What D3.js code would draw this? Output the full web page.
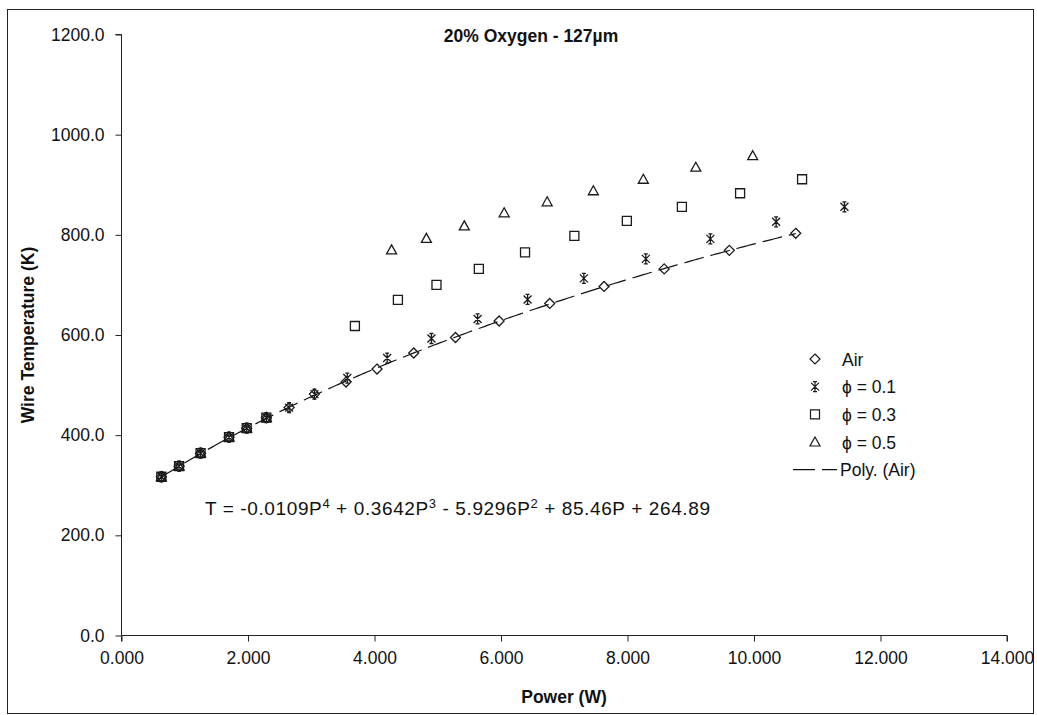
<!DOCTYPE html>
<html>
<head>
<meta charset="utf-8">
<script src="https://cdn.jsdelivr.net/npm/d3@7/dist/d3.min.js"></script>
<style>
  html, body { margin: 0; padding: 0; background: #fff; }
  svg { display: block; }
  text { font-family: Arial, "Liberation Sans", sans-serif; fill: #111; }
</style>
</head>
<body>
<svg id="chart" width="1037" height="715"></svg>
<script>
// Wire temperature vs. heating power, 20% O2, 127 µm wire
const airPower   = [0.63, 0.91, 1.25, 1.70, 1.98, 2.29, 2.65, 3.05, 3.55, 4.04, 4.62, 5.28, 5.97, 6.77, 7.63, 8.58, 9.61, 10.66];
const airTemp    = [317, 338, 364, 396, 414, 435, 455, 482, 506, 532, 564, 595, 628, 663, 697, 732, 769, 803];

const phi01Power = [0.63, 0.91, 1.25, 1.70, 1.98, 2.29, 2.65, 3.05, 3.57, 4.20, 4.90, 5.63, 6.42, 7.31, 8.29, 9.31, 10.35, 11.43];
const phi01Temp  = [317, 338, 364, 396, 414, 435, 455, 482, 514, 554, 593, 632, 671, 713, 752, 792, 826, 856];

const phi03Power = [0.63, 0.91, 1.25, 1.70, 1.98, 2.29, 3.69, 4.37, 4.98, 5.65, 6.38, 7.16, 7.99, 8.86, 9.78, 10.76];
const phi03Temp  = [317, 338, 364, 396, 414, 435, 618, 670, 700, 732, 765, 798, 828, 856, 883, 911];

const phi05Power = [0.63, 0.91, 1.25, 1.70, 1.98, 2.29, 4.27, 4.82, 5.42, 6.05, 6.73, 7.46, 8.25, 9.08, 9.98];
const phi05Temp  = [317, 338, 364, 396, 414, 435, 770, 793, 818, 844, 866, 888, 911, 935, 958];

// 4th-order polynomial fit of the Air series, ascending powers of P
const polyCoef = [264.89, 85.46, -5.9296, 0.3642, -0.0109];

const xTicks = [0, 2, 4, 6, 8, 10, 12, 14];
const yTicks = [0, 200, 400, 600, 800, 1000, 1200];

const seriesNames = ["Air", "\u03D5 = 0.1", "\u03D5 = 0.3", "\u03D5 = 0.5"];
const titleText = "20% Oxygen - 127\u00B5m";
const xTitle = "Power (W)";
const yTitle = "Wire Temperature (K)";

const svg = d3.select("#chart");
const FONT = "Arial, 'Liberation Sans', sans-serif";

// outer chart frame
svg.append("rect")
  .attr("x", 7.5).attr("y", 9.5)
  .attr("width", 1026).attr("height", 704)
  .attr("fill", "none").attr("stroke", "#222").attr("stroke-width", 1);

const x = d3.scaleLinear().domain([0, 14]).range([121.5, 1007]);
const y = d3.scaleLinear().domain([0, 1200]).range([635.5, 34.5]);

// axes
const yAxis = d3.axisLeft(y).tickValues(yTicks).tickSize(6).tickPadding(11)
  .tickFormat(d3.format(".1f"));
const gy = svg.append("g").attr("transform", `translate(${x(0)},0)`).call(yAxis);
gy.select(".domain").attr("stroke", "#222").attr("d", `M-6,${y(1200)}H0V${y(0)}`);
gy.selectAll(".tick line").attr("stroke", "#222");
gy.selectAll(".tick text").attr("font-size", 17.5).attr("fill", "#1a1a1a").attr("font-family", FONT);

const xAxis = d3.axisBottom(x).tickValues(xTicks).tickSize(6).tickPadding(10)
  .tickFormat(d3.format(".3f"));
const gx = svg.append("g").attr("transform", `translate(0,${y(0)})`).call(xAxis);
gx.select(".domain").attr("stroke", "#222").attr("d", `M${x(0)},6V0H${x(14)}V6`);
gx.selectAll(".tick line").attr("stroke", "#222");
gx.selectAll(".tick text").attr("font-size", 17.5).attr("fill", "#1a1a1a").attr("font-family", FONT);

// titles
svg.append("text").attr("x", 531).attr("y", 42).attr("text-anchor", "middle")
  .attr("font-size", 17.5).attr("font-weight", "bold").text(titleText);
svg.append("text").attr("x", 564).attr("y", 703).attr("text-anchor", "middle")
  .attr("font-size", 17.5).attr("font-weight", "bold").text(xTitle);
svg.append("text").attr("transform", `translate(34,${(y(0) + y(1200)) / 2}) rotate(-90)`)
  .attr("text-anchor", "middle").attr("font-size", 17.5).attr("font-weight", "bold").text(yTitle);

// polynomial trendline
const poly = p => polyCoef.reduce((s, c, i) => s + c * Math.pow(p, i), 0);
const pMin = d3.min(airPower), pMax = d3.max(airPower);
const fitPts = d3.range(0, 201).map(i => pMin + (pMax - pMin) * i / 200);
svg.append("path")
  .datum(fitPts)
  .attr("d", d3.line().x(p => x(p)).y(p => y(poly(p))))
  .attr("fill", "none").attr("stroke", "#111").attr("stroke-width", 1.2)
  .attr("stroke-dasharray", "20,7");

// marker shapes
const markerPath = {
  diamond: "M0,-5L5,0L0,5L-5,0Z",
  star: "M-4,-4L4,4M-4,4L4,-4M0,-5V5M-2,-5H2M-2,5H2",
  square: "M-4.5,-4.5H4.5V4.5H-4.5Z",
  triangle: "M0,-5L5,4H-5Z"
};
const markerOf = ["diamond", "star", "square", "triangle"];
const seriesData = [
  airPower.map((p, i) => [p, airTemp[i]]),
  phi01Power.map((p, i) => [p, phi01Temp[i]]),
  phi03Power.map((p, i) => [p, phi03Temp[i]]),
  phi05Power.map((p, i) => [p, phi05Temp[i]])
];

seriesData.forEach((pts, si) => {
  svg.append("g").selectAll("path").data(pts).join("path")
    .attr("transform", d => `translate(${x(d[0])},${y(d[1])})`)
    .attr("d", markerPath[markerOf[si]])
    .attr("fill", "none")
    .attr("stroke", "#1a1a1a").attr("stroke-width", 1.3);
});

// regression equation
const eq = svg.append("text").attr("x", 205).attr("y", 515).attr("font-size", 19)
  .attr("textLength", 505).attr("lengthAdjust", "spacing");
const eqParts = [
  ["T = -0.0109P", false], ["4", true], [" + 0.3642P", false], ["3", true],
  [" - 5.9296P", false], ["2", true], [" + 85.46P + 264.89", false]
];
let raised = false;
eqParts.forEach(([t, sup]) => {
  const dy = sup ? -7 : (raised ? 7 : 0);
  raised = sup;
  eq.append("tspan").attr("font-size", sup ? 13 : 19).attr("dy", dy).text(t);
});

// legend
const legY = [359, 386.7, 414.3, 442, 469.7];
const legMarkX = 815, legTextX = 842;
seriesNames.forEach((name, i) => {
  svg.append("path")
    .attr("transform", `translate(${legMarkX},${legY[i]})`)
    .attr("d", markerPath[markerOf[i]])
    .attr("fill", "none").attr("stroke", "#1a1a1a").attr("stroke-width", 1.2);
  svg.append("text").attr("x", legTextX).attr("y", legY[i] + 6.5)
    .attr("font-size", 17.5).text(name);
});
svg.append("line")
  .attr("x1", 793).attr("x2", 837).attr("y1", legY[4]).attr("y2", legY[4])
  .attr("stroke", "#111").attr("stroke-width", 1.3).attr("stroke-dasharray", "22,7");
svg.append("text").attr("x", 840).attr("y", legY[4] + 6.5)
  .attr("font-size", 17.5).text("Poly. (Air)");
</script>
</body>
</html>
